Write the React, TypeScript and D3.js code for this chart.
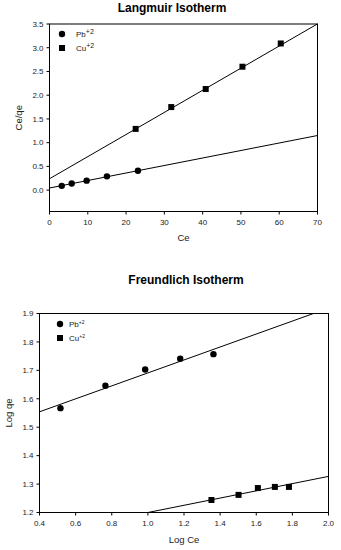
import React from "react";
import * as d3 from "d3";

const langPbCe = [3.2, 5.8, 9.7, 15.0, 23.1];
const langPbY = [0.09, 0.14, 0.2, 0.29, 0.41];
const langCuCe = [22.5, 31.8, 40.8, 50.4, 60.4];
const langCuY = [1.29, 1.75, 2.13, 2.6, 3.09];
const langPbFit = [0.045, 0.0158]; // intercept, slope
const langCuFit = [0.24, 0.0466];
const langXTicks = [0, 10, 20, 30, 40, 50, 60, 70];
const langYTicks = [0, 0.5, 1.0, 1.5, 2.0, 2.5, 3.0, 3.5];

const freuPbX = [0.516, 0.765, 0.985, 1.179, 1.363];
const freuPbY = [1.567, 1.646, 1.703, 1.741, 1.757];
const freuCuX = [1.352, 1.502, 1.609, 1.703, 1.781];
const freuCuY = [1.244, 1.262, 1.286, 1.29, 1.29];
const freuPbFit = [1.463, 0.228];
const freuCuFit = [1.073, 0.127];
const freuXTicks = [0.4, 0.6, 0.8, 1.0, 1.2, 1.4, 1.6, 1.8, 2.0];
const freuYTicks = [1.2, 1.3, 1.4, 1.5, 1.6, 1.7, 1.8, 1.9];

const seriesNames = ["Pb", "Cu"];

const FONT = "Arial, 'Liberation Sans', sans-serif";

function fitSegment(
  fit: number[],
  xDom: number[],
  yDom: number[]
): [number, number][] {
  const [b, m] = fit;
  let x0 = xDom[0];
  let x1 = xDom[1];
  const yAt = (x: number) => b + m * x;
  // clip to y domain
  if (yAt(x0) < yDom[0]) x0 = (yDom[0] - b) / m;
  if (yAt(x1) > yDom[1]) x1 = (yDom[1] - b) / m;
  return [
    [x0, yAt(x0)],
    [x1, yAt(x1)],
  ];
}

type PanelProps = {
  top: number;
  title: string;
  titleX: number;
  titleY: number;
  left: number;
  right: number;
  plotTop: number;
  plotBottom: number;
  xDom: number[];
  yDom: number[];
  xTicks: number[];
  yTicks: number[];
  xFmt: (v: number) => string;
  yFmt: (v: number) => string;
  pb: [number[], number[]];
  cu: [number[], number[]];
  pbFit: number[];
  cuFit: number[];
  xLabel: string;
  yLabel: string;
  xLabelY: number;
  yLabelX: number;
  legendX: number;
  legendY: number;
  legendTextX: number;
  supSize: number;
};

function Panel(p: PanelProps) {
  const x = d3.scaleLinear().domain(p.xDom).range([p.left, p.right]);
  const y = d3.scaleLinear().domain(p.yDom).range([p.plotBottom, p.plotTop]);
  const line = d3
    .line<[number, number]>()
    .x((d) => x(d[0]))
    .y((d) => y(d[1]));
  const pbSeg = fitSegment(p.pbFit, p.xDom, p.yDom);
  const cuSeg = fitSegment(p.cuFit, p.xDom, p.yDom);
  const sq = 6;
  return (
    <g>
      <text
        x={p.titleX}
        y={p.titleY}
        textAnchor="middle"
        fontFamily={FONT}
        fontWeight="bold"
        fontSize={12}
        fill="#000"
      >
        {p.title}
      </text>
      <rect
        x={p.left}
        y={p.plotTop}
        width={p.right - p.left}
        height={p.plotBottom - p.plotTop}
        fill="none"
        stroke="#000"
        strokeWidth={1}
      />
      {p.yTicks.map((t) => (
        <g key={"y" + t}>
          <line x1={p.left - 3} x2={p.left} y1={y(t)} y2={y(t)} stroke="#000" />
          <text
            x={p.left - 6}
            y={y(t)}
            dy="0.35em"
            textAnchor="end"
            fontFamily={FONT}
            fontSize={8}
            fill="#222"
          >
            {p.yFmt(t)}
          </text>
        </g>
      ))}
      {p.xTicks.map((t) => (
        <g key={"x" + t}>
          <line
            x1={x(t)}
            x2={x(t)}
            y1={p.plotBottom}
            y2={p.plotBottom + 3}
            stroke="#000"
          />
          <text
            x={x(t)}
            y={p.plotBottom + 13}
            textAnchor="middle"
            fontFamily={FONT}
            fontSize={8}
            fill="#222"
          >
            {p.xFmt(t)}
          </text>
        </g>
      ))}
      <path d={line(pbSeg) || ""} stroke="#000" strokeWidth={1} fill="none" />
      <path d={line(cuSeg) || ""} stroke="#000" strokeWidth={1} fill="none" />
      {p.pb[0].map((v, i) => (
        <circle key={"pb" + i} cx={x(v)} cy={y(p.pb[1][i])} r={3.2} fill="#000" />
      ))}
      {p.cu[0].map((v, i) => (
        <rect
          key={"cu" + i}
          x={x(v) - sq / 2}
          y={y(p.cu[1][i]) - sq / 2}
          width={sq}
          height={sq}
          fill="#000"
        />
      ))}
      <text
        x={(p.left + p.right) / 2}
        y={p.xLabelY}
        textAnchor="middle"
        fontFamily={FONT}
        fontSize={9.5}
        fill="#222"
      >
        {p.xLabel}
      </text>
      <text
        transform={`translate(${p.yLabelX},${(p.plotTop + p.plotBottom) / 2}) rotate(-90)`}
        textAnchor="middle"
        fontFamily={FONT}
        fontSize={9.5}
        fill="#222"
      >
        {p.yLabel}
      </text>
      {/* legend */}
      <circle cx={p.legendX} cy={p.legendY} r={3.2} fill="#000" />
      <rect
        x={p.legendX - sq / 2}
        y={p.legendY + 14 - sq / 2}
        width={sq}
        height={sq}
        fill="#000"
      />
      {seriesNames.map((s, i) => (
        <text
          key={s}
          x={p.legendTextX}
          y={p.legendY + i * 14 + 3}
          fontFamily={FONT}
          fontSize={8}
          fill="#222"
        >
          {s}
          <tspan dy={-3.5} fontSize={p.supSize}>
            +2
          </tspan>
        </text>
      ))}
    </g>
  );
}

export default function App() {
  return (
    <svg
      width={341}
      height={550}
      style={{ position: "absolute", left: 0, top: 0, background: "#fff" }}
    >
      <rect x={0} y={0} width={341} height={550} fill="#fff" />
      <Panel
        top={0}
        title="Langmuir Isotherm"
        titleX={172}
        titleY={12}
        left={49.5}
        right={317.5}
        plotTop={24}
        plotBottom={211.5}
        xDom={[0, 70]}
        yDom={[-0.45, 3.5]}
        xTicks={langXTicks}
        yTicks={langYTicks}
        xFmt={d3.format("d")}
        yFmt={d3.format(".1f")}
        pb={[langPbCe, langPbY]}
        cu={[langCuCe, langCuY]}
        pbFit={langPbFit}
        cuFit={langCuFit}
        xLabel="Ce"
        yLabel="Ce/qe"
        xLabelY={241}
        yLabelX={22}
        legendX={62}
        legendY={34}
        legendTextX={76}
        supSize={7}
      />
      <Panel
        top={270}
        title="Freundlich Isotherm"
        titleX={186}
        titleY={284}
        left={39.5}
        right={328.5}
        plotTop={313.5}
        plotBottom={512.5}
        xDom={[0.4, 2.0]}
        yDom={[1.2, 1.9]}
        xTicks={freuXTicks}
        yTicks={freuYTicks}
        xFmt={d3.format(".1f")}
        yFmt={d3.format(".1f")}
        pb={[freuPbX, freuPbY]}
        cu={[freuCuX, freuCuY]}
        pbFit={freuPbFit}
        cuFit={freuCuFit}
        xLabel="Log Ce"
        yLabel="Log qe"
        xLabelY={543}
        yLabelX={12}
        legendX={60}
        legendY={324}
        legendTextX={69}
        supSize={5}
      />
    </svg>
  );
}
